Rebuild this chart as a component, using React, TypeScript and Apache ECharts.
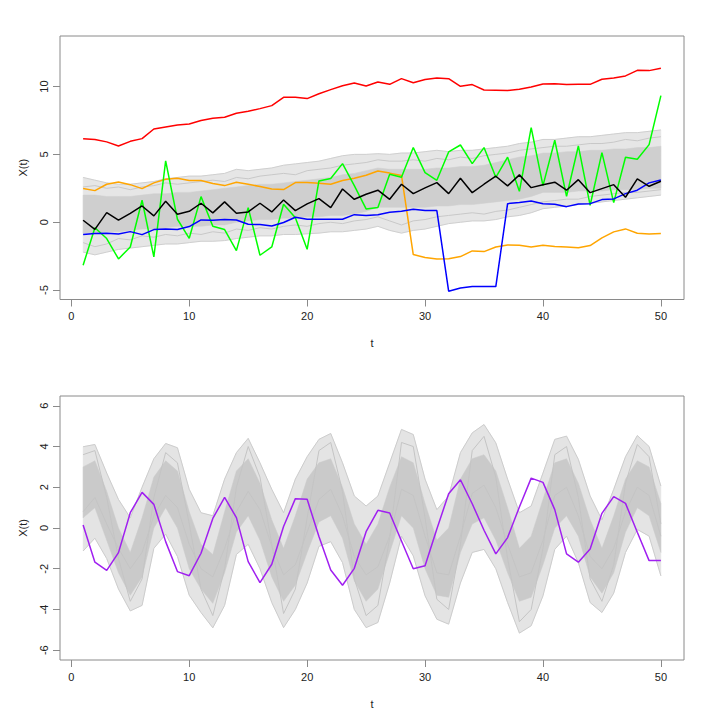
import React, { useEffect, useRef } from "react";
import * as echarts from "echarts";

// time index
const T = [1, 2, 3, 4, 5, 6, 7, 8, 9, 10, 11, 12, 13, 14, 15, 16, 17, 18, 19, 20, 21, 22, 23, 24, 25, 26, 27, 28, 29, 30, 31, 32, 33, 34, 35, 36, 37, 38, 39, 40, 41, 42, 43, 44, 45, 46, 47, 48, 49, 50];

// ---- top panel: highlighted paths ----
const redPath = [6.16, 6.09, 5.92, 5.62, 5.96, 6.16, 6.87, 7.02, 7.17, 7.24, 7.49, 7.66, 7.73, 8.03, 8.17, 8.37, 8.59, 9.2, 9.2, 9.11, 9.47, 9.77, 10.06, 10.26, 10.04, 10.33, 10.16, 10.58, 10.28, 10.51, 10.63, 10.58, 10.01, 10.14, 9.74, 9.72, 9.7, 9.79, 9.97, 10.19, 10.21, 10.14, 10.16, 10.16, 10.53, 10.63, 10.78, 11.19, 11.17, 11.34];
const orangePath = [2.48, 2.33, 2.8, 2.97, 2.77, 2.48, 2.9, 3.17, 3.24, 3.07, 3.07, 2.85, 2.7, 2.95, 2.8, 2.63, 2.45, 2.41, 2.92, 2.92, 2.87, 2.8, 3.07, 3.24, 3.46, 3.78, 3.62, 3.45, -2.38, -2.6, -2.7, -2.68, -2.53, -2.11, -2.16, -1.82, -1.67, -1.69, -1.82, -1.69, -1.79, -1.82, -1.87, -1.72, -1.15, -0.71, -0.49, -0.81, -0.86, -0.83];
const greenPath = [-3.17, -0.4, -1.2, -2.7, -1.82, 1.62, -2.55, 4.52, 0.22, -1.18, 1.89, -0.29, -0.54, -2.09, 1.08, -2.43, -1.82, 1.33, 0.34, -1.99, 3.04, 3.22, 4.32, 2.7, 0.98, 1.08, 3.53, 3.31, 5.5, 3.66, 3.09, 5.18, 5.69, 4.32, 5.5, 3.31, 4.79, 2.28, 6.97, 2.7, 6.04, 1.91, 5.62, 1.25, 5.13, 1.45, 4.79, 4.64, 5.72, 9.33];
const blackPath = [0.15, -0.52, 0.71, 0.15, 0.66, 1.2, 0.47, 1.55, 0.59, 0.81, 1.4, 0.69, 1.5, 0.66, 0.76, 1.4, 0.76, 1.64, 0.86, 1.35, 1.74, 1.08, 2.45, 1.69, 2.06, 2.36, 1.69, 2.8, 2.11, 2.53, 2.92, 2.11, 3.24, 2.18, 2.8, 3.39, 2.68, 3.49, 2.55, 2.77, 2.95, 2.36, 3.14, 2.18, 2.48, 2.77, 1.84, 3.19, 2.65, 3.02];
const bluePath = [-0.91, -0.83, -0.81, -0.86, -0.69, -0.91, -0.54, -0.49, -0.54, -0.32, 0.17, 0.15, 0.2, 0.17, -0.15, -0.17, -0.27, -0.02, 0.37, 0.22, 0.22, 0.22, 0.22, 0.56, 0.49, 0.56, 0.74, 0.81, 0.96, 0.86, 0.86, -5.08, -4.84, -4.74, -4.74, -4.74, 1.37, 1.45, 1.57, 1.37, 1.33, 1.15, 1.35, 1.37, 1.67, 1.72, 2.11, 2.36, 2.9, 3.12];

// ---- top panel: spread of the grey ensemble ----
const topUpper = [3.3, 3.1, 2.9, 2.8, 2.8, 2.9, 3.0, 3.2, 3.3, 3.4, 3.4, 3.5, 3.6, 3.9, 3.8, 3.9, 4.0, 4.2, 4.3, 4.4, 4.5, 4.7, 4.9, 5.0, 5.0, 5.05, 5.0, 5.1, 5.1, 5.2, 5.3, 5.2, 5.3, 5.3, 5.4, 5.5, 5.6, 5.8, 5.9, 6.1, 6.1, 6.2, 6.3, 6.3, 6.4, 6.5, 6.6, 6.6, 6.7, 6.8];
const topCoreUpper = [2.0, 2.0, 1.9, 1.9, 1.9, 2.0, 2.1, 2.1, 2.2, 2.2, 2.3, 2.4, 2.5, 2.6, 2.7, 2.8, 2.8, 2.9, 3.0, 3.1, 3.2, 3.3, 3.5, 3.6, 3.8, 4.0, 3.9, 3.9, 3.9, 3.9, 4.0, 4.0, 4.1, 4.1, 4.2, 4.4, 4.6, 4.8, 4.9, 5.1, 5.1, 5.2, 5.2, 5.3, 5.3, 5.4, 5.4, 5.5, 5.5, 5.6];
const topCoreLower = [-0.8, -0.8, -0.7, -0.7, -0.6, -0.5, -0.5, -0.4, -0.3, -0.3, -0.3, -0.2, -0.2, 0.0, 0.1, 0.2, 0.2, 0.3, 0.3, 0.4, 0.4, 0.5, 0.5, 0.6, 0.8, 1.1, 1.1, 1.1, 1.1, 1.1, 1.2, 1.2, 1.3, 1.3, 1.4, 1.5, 1.6, 1.7, 1.9, 2.2, 2.2, 2.2, 2.3, 2.3, 2.3, 2.4, 2.4, 2.4, 2.5, 2.5];
const topLower = [-2.2, -2.4, -2.2, -2.0, -1.9, -1.8, -1.7, -1.6, -1.6, -1.5, -1.4, -1.4, -1.35, -1.2, -1.1, -1.0, -1.0, -0.9, -0.9, -0.85, -0.8, -0.7, -0.7, -0.6, -0.5, -0.3, -0.6, -0.8, -0.6, -0.5, -0.3, -0.1, 0.0, 0.1, 0.1, 0.2, 0.4, 0.5, 0.7, 1.0, 1.1, 1.2, 1.3, 1.4, 1.5, 1.6, 1.7, 1.8, 1.9, 2.0];
const topGreyA = [2.6, 2.7, 2.5, 2.6, 2.4, 2.6, 2.7, 2.9, 2.8, 2.9, 3.0, 3.1, 3.0, 3.3, 3.2, 3.4, 3.5, 3.6, 3.5, 3.8, 3.9, 4.0, 4.2, 4.3, 4.4, 4.6, 4.5, 4.5, 4.6, 4.5, 4.7, 4.6, 4.8, 4.7, 4.9, 5.0, 5.1, 5.3, 5.4, 5.5, 5.6, 5.6, 5.7, 5.8, 5.8, 5.9, 6.1, 6.0, 6.2, 6.3];
const topGreyB = [-1.5, -1.8, -1.6, -1.2, -1.3, -1.0, -1.1, -0.9, -1.0, -0.8, -0.9, -0.7, -0.8, -0.5, -0.6, -0.4, -0.5, -0.3, -0.2, -0.3, -0.1, 0.0, -0.1, 0.1, 0.2, 0.4, 0.1, -0.2, 0.1, 0.2, 0.4, 0.5, 0.6, 0.7, 0.6, 0.8, 0.9, 1.1, 1.3, 1.5, 1.6, 1.7, 1.7, 1.9, 2.0, 2.1, 2.2, 2.2, 2.3, 2.4];

// ---- bottom panel ----
const purplePath = [0.15, -1.68, -2.08, -1.21, 0.75, 1.75, 1.16, -0.67, -2.14, -2.34, -1.24, 0.47, 1.5, 0.51, -1.65, -2.68, -1.78, 0.07, 1.44, 1.41, -0.42, -2.06, -2.81, -1.98, -0.18, 0.87, 0.74, -0.64, -2.0, -1.85, -0.05, 1.68, 2.37, 1.19, -0.11, -1.27, -0.47, 1.03, 2.45, 2.24, 0.9, -1.27, -1.68, -1.03, 0.72, 1.54, 1.21, -0.21, -1.6, -1.6];
const botUpper = [3.99, 4.1, 2.7, 1.4, 0.5, 2.0, 3.4, 4.15, 3.94, 1.9, 0.75, 0.6, 2.4, 3.7, 4.4, 3.2, 1.9, 0.75, 2.4, 3.5, 4.35, 4.64, 3.2, 1.57, 1.08, 1.57, 3.2, 4.84, 4.59, 2.4, 0.9, 1.57, 3.7, 4.67, 5.08, 4.18, 2.4, 0.75, 1.08, 2.7, 4.35, 4.51, 3.37, 1.57, 0.4, 1.9, 3.5, 4.54, 4.0, 2.06];
const botCoreUpper = [3.0, 3.3, 1.8, 0.0, -1.2, 0.5, 2.5, 3.3, 2.8, 0.8, -0.8, -1.3, 0.8, 2.8, 3.4, 2.2, 0.4, -1.0, 0.6, 2.4, 3.2, 3.4, 2.0, 0.2, -0.8, 0.2, 2.0, 3.5, 3.2, 1.2, -0.6, 0.0, 2.4, 3.4, 3.6, 2.8, 1.0, -1.0, -0.4, 1.4, 3.2, 3.4, 2.2, 0.4, -1.0, 0.6, 2.4, 3.3, 3.0, 1.2];
const botCoreLower = [0.5, 1.0, -0.6, -2.2, -3.3, -2.4, 0.0, 1.0, 0.0, -2.0, -3.0, -3.7, -2.2, -0.2, 0.6, -0.6, -2.4, -3.6, -2.8, -1.2, 0.3, 0.6, -0.5, -2.6, -3.6, -3.0, -1.2, 0.6, 0.0, -2.0, -3.3, -3.4, -1.2, 0.2, 0.5, -0.6, -2.2, -3.6, -3.4, -1.8, 0.0, 0.6, -0.4, -2.4, -3.2, -2.2, -0.2, 1.0, 0.6, -1.2];
const botLower = [-1.13, -0.5, -1.5, -3.0, -4.07, -3.8, -1.0, -0.3, -1.4, -3.3, -4.15, -4.9, -3.8, -1.3, -0.8, -2.0, -3.66, -4.89, -4.0, -2.7, -0.9, -0.67, -1.7, -4.0, -4.89, -4.64, -2.7, -0.4, -1.37, -3.33, -4.48, -4.72, -2.7, -1.2, -1.05, -2.0, -3.66, -5.16, -4.8, -3.33, -1.05, -0.4, -1.7, -3.66, -4.15, -3.2, -1.2, -0.07, -0.4, -2.35];
const botGreyA = [3.6, 3.8, 1.5, -1.5, -3.6, -2.5, 1.5, 3.7, 3.2, 0.2, -3.0, -4.3, -2.0, 2.0, 4.0, 2.5, -0.8, -4.2, -3.0, 0.5, 3.8, 4.2, 1.8, -2.5, -4.3, -3.8, -0.5, 4.2, 4.0, 0.5, -3.5, -4.0, -0.8, 3.8, 4.5, 2.5, -1.5, -4.6, -4.0, -1.0, 3.6, 4.0, 1.5, -2.5, -3.6, -1.8, 2.2, 4.1, 3.5, 0.2];
const botGreyB = [0.8, 1.5, 0.2, -1.0, -2.0, -1.2, 0.6, 1.6, 1.0, -0.8, -2.0, -2.4, -1.0, 0.8, 1.8, 0.9, -0.9, -2.3, -1.8, -0.2, 1.4, 1.9, 0.6, -1.4, -2.3, -1.9, -0.4, 1.9, 1.6, -0.4, -2.2, -2.3, -0.4, 1.7, 2.1, 1.0, -0.8, -2.4, -2.2, -0.6, 1.6, 2.0, 0.6, -1.4, -2.0, -1.0, 0.8, 2.0, 1.6, -0.4];

// ticks
const xTicks = [0, 10, 20, 30, 40, 50];
const yTicksTop = [-5, 0, 5, 10];
const yTicksBottom = [-6, -4, -2, 0, 2, 4, 6];

const FONT = "'Liberation Sans', Arial, Helvetica, sans-serif";
const BOX = "#8a8a8a";
const TXT = "#222";

function pairs(ys: number[]) {
  return ys.map((v, i) => [T[i], v]);
}

function lineSeries(ys: number[], color: string, width: number, g: number) {
  return {
    type: "line",
    xAxisIndex: g,
    yAxisIndex: g,
    data: pairs(ys),
    symbol: "none",
    silent: true,
    lineStyle: { color, width },
  };
}

function bandSeries(lower: number[], upper: number[], color: string, g: number) {
  return {
    type: "custom",
    xAxisIndex: g,
    yAxisIndex: g,
    silent: true,
    data: [[T[0], lower[0]]],
    encode: { x: 0, y: 1 },
    renderItem: (_params: any, api: any) => {
      const pts: number[][] = [];
      for (let i = 0; i < T.length; i++) pts.push(api.coord([T[i], upper[i]]));
      for (let i = T.length - 1; i >= 0; i--) pts.push(api.coord([T[i], lower[i]]));
      return {
        type: "polygon",
        shape: { points: pts },
        style: { fill: color, stroke: color, lineWidth: 0.5 },
      };
    },
  };
}

function xAxisFor(g: number) {
  return {
    type: "value",
    gridIndex: g,
    min: -0.96,
    max: 51.96,
    axisLine: { show: false, onZero: false },
    splitLine: { show: false },
    axisTick: { show: true, inside: false, length: 7, lineStyle: { color: BOX }, customValues: xTicks },
    axisLabel: { customValues: xTicks, margin: 11, color: TXT, fontSize: 11, fontFamily: FONT },
    name: "t",
    nameLocation: "middle",
    nameGap: 38,
    nameTextStyle: { color: TXT, fontSize: 11, fontFamily: FONT },
  };
}

function yAxisFor(g: number, min: number, max: number, ticks: number[]) {
  return {
    type: "value",
    gridIndex: g,
    min,
    max,
    axisLine: { show: false, onZero: false },
    splitLine: { show: false },
    axisTick: { show: true, inside: false, length: 7, lineStyle: { color: BOX }, customValues: ticks },
    axisLabel: { customValues: ticks, rotate: 90, margin: 11, color: TXT, fontSize: 11, fontFamily: FONT },
    name: "X(t)",
    nameLocation: "middle",
    nameRotate: 90,
    nameGap: 32,
    nameTextStyle: { color: TXT, fontSize: 11, fontFamily: FONT },
  };
}

export default function App() {
  const ref = useRef<HTMLDivElement>(null);
  useEffect(() => {
    if (!ref.current) return;
    const chart = echarts.init(ref.current, undefined, { renderer: "svg" });
    const option = {
      animation: false,
      backgroundColor: "#ffffff",
      grid: [
        { left: 60, top: 36, width: 624, height: 263.5, show: true, borderColor: BOX, borderWidth: 1, backgroundColor: "transparent" },
        { left: 60, top: 396, width: 624, height: 264, show: true, borderColor: BOX, borderWidth: 1, backgroundColor: "transparent" },
      ],
      xAxis: [xAxisFor(0), xAxisFor(1)],
      yAxis: [yAxisFor(0, -5.69, 13.72, yTicksTop), yAxisFor(1, -6.48, 6.48, yTicksBottom)],
      series: [
        bandSeries(topLower, topUpper, "#e6e6e6", 0),
        bandSeries(topCoreLower, topCoreUpper, "#cfcfcf", 0),
        lineSeries(topUpper, "#cfcfcf", 1, 0),
        lineSeries(topLower, "#cfcfcf", 1, 0),
        lineSeries(topGreyA, "#c8c8c8", 1, 0),
        lineSeries(topGreyB, "#c8c8c8", 1, 0),
        lineSeries(redPath, "#ff0000", 1.5, 0),
        lineSeries(orangePath, "#ffa500", 1.5, 0),
        lineSeries(greenPath, "#00ff00", 1.5, 0),
        lineSeries(bluePath, "#0000ff", 1.5, 0),
        lineSeries(blackPath, "#000000", 1.5, 0),
        bandSeries(botLower, botUpper, "#e4e4e4", 1),
        bandSeries(botCoreLower, botCoreUpper, "#cacaca", 1),
        lineSeries(botUpper, "#cccccc", 1, 1),
        lineSeries(botLower, "#cccccc", 1, 1),
        lineSeries(botGreyA, "#c4c4c4", 1, 1),
        lineSeries(botGreyB, "#c4c4c4", 1, 1),
        lineSeries(purplePath, "#a020f0", 1.5, 1),
      ],
    };
    chart.setOption(option as any);
    return () => chart.dispose();
  }, []);
  return (
    <div
      ref={ref}
      style={{ position: "absolute", left: 0, top: 0, width: 720, height: 720 }}
    />
  );
}
